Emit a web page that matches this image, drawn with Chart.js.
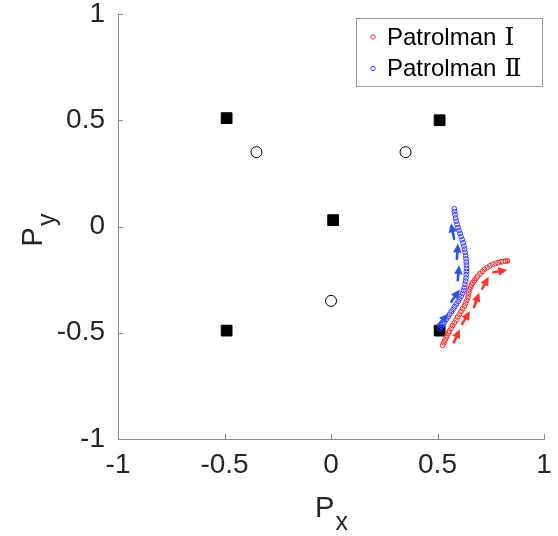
<!DOCTYPE html>
<html>
<head>
<meta charset="utf-8">
<script src="https://cdn.jsdelivr.net/npm/chart.js@4.4.1/dist/chart.umd.min.js"></script>
<style>
  html, body { margin: 0; padding: 0; background: #fff; }
  #wrap { width: 558px; height: 536px; }
</style>
</head>
<body>
<div id="wrap"><canvas id="chart" width="558" height="536"></canvas></div>
<script>
// ── Data ──────────────────────────────────────────────────────────────
const tickValues = [-1, -0.5, 0, 0.5, 1];
const tickLabels = ['-1', '-0.5', '0', '0.5', '1'];

// black squares
const squareX = [-0.49, 0.51, 0.01, -0.49, 0.51];
const squareY = [0.51, 0.50, 0.03, -0.49, -0.49];

// open circles
const ringX = [-0.35, 0.35, 0.00];
const ringY = [0.35, 0.35, -0.35];

// Patrolman I trajectory
const redX = [0.524, 0.529, 0.535, 0.540, 0.545, 0.551, 0.556, 0.564, 0.571, 0.579,
              0.587, 0.595, 0.603, 0.611, 0.618, 0.626, 0.632, 0.637, 0.642, 0.645,
              0.647, 0.650, 0.655, 0.660, 0.665, 0.673, 0.681, 0.689, 0.699, 0.710,
              0.720, 0.733, 0.746, 0.759, 0.772, 0.785, 0.798, 0.808, 0.819, 0.829];
const redY = [-0.559, -0.547, -0.535, -0.523, -0.513, -0.502, -0.492, -0.479, -0.466, -0.453,
              -0.440, -0.426, -0.413, -0.400, -0.387, -0.374, -0.361, -0.348, -0.335, -0.322,
              -0.309, -0.296, -0.285, -0.274, -0.264, -0.254, -0.243, -0.233, -0.222, -0.212,
              -0.201, -0.193, -0.185, -0.178, -0.174, -0.170, -0.166, -0.165, -0.163, -0.162];

// Patrolman II trajectory
const blueX = [0.510, 0.517, 0.525, 0.533, 0.541, 0.549, 0.557, 0.565, 0.573, 0.581,
               0.589, 0.597, 0.604, 0.611, 0.617, 0.622, 0.626, 0.629, 0.632, 0.634,
               0.635, 0.636, 0.636, 0.636, 0.635, 0.634, 0.632, 0.630, 0.627, 0.624,
               0.620, 0.616, 0.611, 0.606, 0.601, 0.596, 0.592, 0.588, 0.585, 0.582,
               0.580, 0.579];
const blueY = [-0.480, -0.470, -0.460, -0.449, -0.437, -0.425, -0.413, -0.401, -0.389, -0.377,
               -0.365, -0.353, -0.341, -0.328, -0.315, -0.301, -0.287, -0.272, -0.257, -0.242,
               -0.227, -0.212, -0.197, -0.182, -0.167, -0.152, -0.137, -0.122, -0.107, -0.092,
               -0.077, -0.062, -0.047, -0.033, -0.019, -0.005, 0.010, 0.025, 0.040, 0.055,
               0.070, 0.083];

// heading arrows: [x0, y0, x1, y1]
const redArrows = [
  [0.576, -0.545, 0.606, -0.484],
  [0.616, -0.458, 0.653, -0.398],
  [0.671, -0.380, 0.696, -0.312],
  [0.710, -0.293, 0.740, -0.236],
  [0.762, -0.215, 0.828, -0.205],
];
const blueArrows = [
  [0.503, -0.463, 0.551, -0.410],
  [0.565, -0.354, 0.604, -0.297],
  [0.595, -0.253, 0.602, -0.182],
  [0.591, -0.152, 0.596, -0.080],
  [0.578, -0.058, 0.563, 0.015],
];

// ── Styling ───────────────────────────────────────────────────────────
const FONT      = "'Liberation Sans', Arial, Helvetica, sans-serif";
const SERIF     = "'Liberation Serif', 'DejaVu Serif', serif";
const AXIS_GRAY = '#8c8c8c';
const TEXT_COL  = '#262626';
const RED       = 'rgb(255, 40, 40)';
const BLUE      = 'rgb(60, 60, 255)';
const RED_ARROW  = 'rgb(255, 50, 50)';
const BLUE_ARROW = 'rgb(45, 85, 225)';

function toPoints(xs, ys) {
  return xs.map((x, i) => ({ x, y: ys[i] }));
}

// ── Plugins ───────────────────────────────────────────────────────────

// inward tick marks, like the source figure
const innerTicks = {
  id: 'innerTicks',
  afterDraw(chart) {
    const { ctx, chartArea: a, scales: { x, y } } = chart;
    ctx.save();
    ctx.strokeStyle = AXIS_GRAY;
    ctx.lineWidth = 1;
    ctx.beginPath();
    tickValues.forEach(v => {
      const px = Math.round(x.getPixelForValue(v)) + 0.5;
      ctx.moveTo(px, a.bottom);
      ctx.lineTo(px, a.bottom - 5);
      const py = Math.round(y.getPixelForValue(v)) + 0.5;
      ctx.moveTo(a.left, py);
      ctx.lineTo(a.left + 5, py);
    });
    ctx.stroke();
    ctx.restore();
  }
};

function drawArrow(ctx, x, y, seg, color) {
  const x0 = x.getPixelForValue(seg[0]), y0 = y.getPixelForValue(seg[1]);
  const x1 = x.getPixelForValue(seg[2]), y1 = y.getPixelForValue(seg[3]);
  const ang = Math.atan2(y1 - y0, x1 - x0);
  const head = 9, half = 4.3;
  const c = Math.cos(ang), s = Math.sin(ang);
  ctx.strokeStyle = color;
  ctx.fillStyle = color;
  ctx.lineWidth = 2.6;
  ctx.lineCap = 'round';
  ctx.beginPath();
  ctx.moveTo(x0, y0);
  ctx.lineTo(x1 - c * head * 0.7, y1 - s * head * 0.7);
  ctx.stroke();
  ctx.beginPath();
  ctx.moveTo(x1, y1);
  ctx.lineTo(x1 - c * head - s * half, y1 - s * head + c * half);
  ctx.lineTo(x1 - c * head + s * half, y1 - s * head - c * half);
  ctx.closePath();
  ctx.fill();
}

const arrows = {
  id: 'arrows',
  afterDatasetsDraw(chart) {
    const { ctx, scales: { x, y } } = chart;
    ctx.save();
    redArrows.forEach(s => drawArrow(ctx, x, y, s, RED_ARROW));
    blueArrows.forEach(s => drawArrow(ctx, x, y, s, BLUE_ARROW));
    ctx.restore();
  }
};

// axis titles with subscripts + boxed legend in the top-right corner
const decorations = {
  id: 'decorations',
  afterDraw(chart) {
    const { ctx, chartArea: a } = chart;
    ctx.save();
    ctx.fillStyle = TEXT_COL;
    ctx.textBaseline = 'alphabetic';
    ctx.textAlign = 'left';

    // P_x
    const cx = (a.left + a.right) / 2;
    ctx.font = '29px ' + FONT;
    const wP = ctx.measureText('P').width;
    ctx.font = '25px ' + FONT;
    const wx = ctx.measureText('x').width;
    let sx = cx - (wP + wx) / 2;
    ctx.font = '29px ' + FONT;
    ctx.fillText('P', sx, a.bottom + 78);
    ctx.font = '25px ' + FONT;
    ctx.fillText('x', sx + wP + 1, a.bottom + 91);

    // P_y (rotated)
    const cy = (a.top + a.bottom) / 2;
    ctx.translate(42, cy);
    ctx.rotate(-Math.PI / 2);
    ctx.font = '25px ' + FONT;
    const wy = ctx.measureText('y').width;
    sx = -(wP + wy) / 2 - 4;
    ctx.font = '29px ' + FONT;
    ctx.fillText('P', sx, 0);
    ctx.font = '25px ' + FONT;
    ctx.fillText('y', sx + wP + 1, 13);
    ctx.setTransform(1, 0, 0, 1, 0, 0);

    // legend
    const bx = 356, by = 18, bw = 186, bh = 68;
    ctx.fillStyle = '#fff';
    ctx.fillRect(bx, by, bw, bh);
    ctx.strokeStyle = '#9a9a9a';
    ctx.lineWidth = 1;
    ctx.strokeRect(bx + 0.5, by + 0.5, bw, bh);
    const items = chart.data.datasets.filter(d => d.inLegend);
    ctx.textBaseline = 'middle';
    items.forEach((d, i) => {
      const ly = by + 19 + i * 31.5;
      ctx.beginPath();
      ctx.arc(bx + 17, ly, 2.2, 0, Math.PI * 2);
      ctx.strokeStyle = d.borderColor;
      ctx.stroke();
      ctx.fillStyle = '#000';
      ctx.font = '24px ' + FONT;
      ctx.fillText(d.name, bx + 31, ly + 1);
      const wn = ctx.measureText(d.name).width;
      ctx.font = '25px ' + SERIF;
      ctx.fillText(d.numeral, bx + 31 + wn + 8, ly + 1);
    });
    ctx.restore();
  }
};

// ── Chart ─────────────────────────────────────────────────────────────
const axisOpts = {
  type: 'linear',
  min: -1,
  max: 1,
  grid: { display: false, drawTicks: false },
  border: { display: true, color: AXIS_GRAY, width: 1 },
  ticks: {
    stepSize: 0.5,
    color: TEXT_COL,
    font: { family: FONT, size: 28 },
    callback: v => {
      const i = tickValues.findIndex(t => Math.abs(t - v) < 1e-9);
      return i >= 0 ? tickLabels[i] : '';
    },
  },
};

new Chart(document.getElementById('chart'), {
  type: 'scatter',
  data: {
    datasets: [
      {
        label: 'Patrolman Ⅰ',
        name: 'Patrolman',
        numeral: 'Ⅰ',
        inLegend: true,
        data: toPoints(redX, redY),
        pointStyle: 'circle',
        pointRadius: 2.4,
        borderWidth: 1,
        borderColor: RED,
        backgroundColor: 'rgba(0,0,0,0)',
      },
      {
        label: 'Patrolman Ⅱ',
        name: 'Patrolman',
        numeral: 'Ⅱ',
        inLegend: true,
        data: toPoints(blueX, blueY),
        pointStyle: 'circle',
        pointRadius: 2.4,
        borderWidth: 1,
        borderColor: BLUE,
        backgroundColor: 'rgba(0,0,0,0)',
      },
      {
        label: 'end',
        data: toPoints(redX.slice(-1), redY.slice(-1)),
        pointStyle: 'crossRot',
        pointRadius: 3,
        borderWidth: 1,
        borderColor: RED,
      },
      {
        label: 'squares',
        data: toPoints(squareX, squareY),
        pointStyle: 'rect',
        pointRadius: 7.6,
        borderWidth: 1,
        borderColor: '#000',
        backgroundColor: '#000',
      },
      {
        label: 'rings',
        data: toPoints(ringX, ringY),
        pointStyle: 'circle',
        pointRadius: 5.5,
        borderWidth: 1,
        borderColor: '#000',
        backgroundColor: '#fff',
      },
    ],
  },
  options: {
    responsive: false,
    animation: false,
    events: [],
    layout: { padding: { top: 14, right: 14, left: 0, bottom: 0 } },
    plugins: {
      legend: { display: false },
      tooltip: { enabled: false },
    },
    scales: {
      x: {
        ...axisOpts,
        ticks: { ...axisOpts.ticks, padding: 9, maxRotation: 0, autoSkip: false },
        afterFit(scale) {
          scale.height = 97;
          scale.paddingLeft = 0; scale.paddingRight = 0;
        },
      },
      y: {
        ...axisOpts,
        ticks: { ...axisOpts.ticks, padding: 13, autoSkip: false },
        afterFit(scale) {
          scale.width = 118;
          scale.paddingTop = 0; scale.paddingBottom = 0;
        },
      },
    },
  },
  plugins: [arrows, innerTicks, decorations],
});
</script>
</body>
</html>
